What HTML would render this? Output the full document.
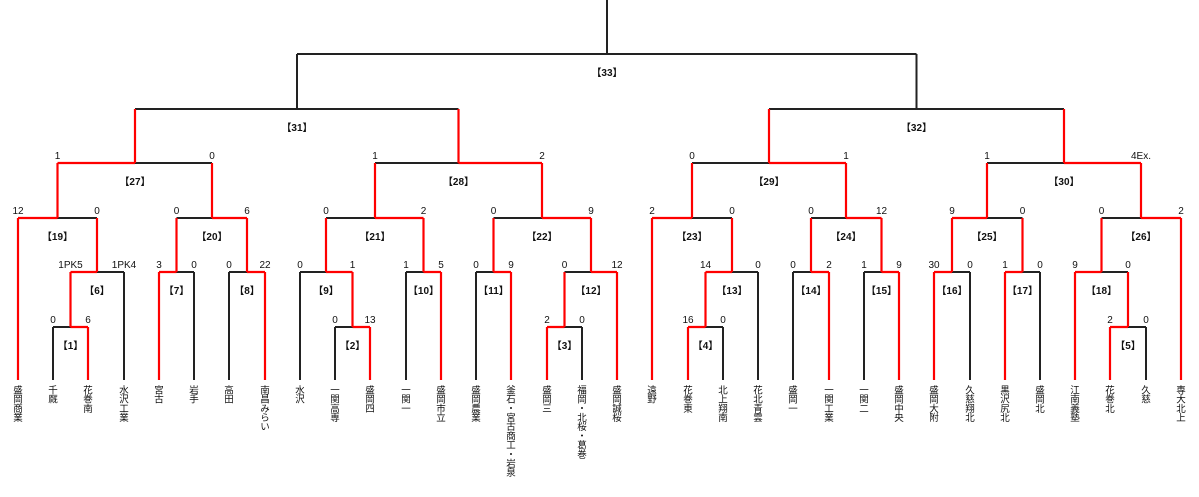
<!DOCTYPE html>
<html><head><meta charset="utf-8"><style>
html,body{margin:0;padding:0;background:#fff;width:1199px;height:497px;overflow:hidden;position:relative;font-family:"Liberation Sans","Noto Sans CJK JP",sans-serif}
svg{position:absolute;left:0;top:0}
.t{position:absolute;top:385px;writing-mode:vertical-rl;text-orientation:upright;font-size:9.5px;line-height:10px;color:#111;font-family:"Noto Sans CJK JP",sans-serif;transform:translateX(-5px);letter-spacing:-0.3px}
</style></head><body>
<svg width="1199" height="497" xmlns="http://www.w3.org/2000/svg">
<g fill="none" stroke="#222" stroke-width="2">
<path d="M607 0V54M297 54H916.5M297 54V109M916.5 54V109M135 109H458.5M769 109H1064"/>
<path d="M53 327H70.5M53 327V380M97 272H124M124 272V380M57.5 218H97M176.5 272H194M194 272V380M229 272H247M229 272V380M176.5 218H212M135 163H212"/>
<path d="M335 327H352.5M335 327V380M300 272H326M300 272V380M406 272H423.5M406 272V380M326 218H375M476 272H493.5M476 272V380M564.5 327H582M582 327V380M564.5 272H591M493.5 218H542M375 163H458.5"/>
<path d="M705.5 327H723M723 327V380M732 272H758M758 272V380M692 218H732M793 272H811M793 272V380M864 272H881.5M864 272V380M811 218H846M692 163H769"/>
<path d="M952 272H970M970 272V380M1022.5 272H1040M1040 272V380M987 218H1022.5M1128 327H1146M1146 327V380M1101.5 272H1128M1101.5 218H1141M987 163H1064"/>
</g>
<g fill="none" stroke="#ff0000" stroke-width="2.2">
<path d="M70.5 327H88M88 327V380M70.5 327V272M70.5 272H97M97 272V218M18 218H57.5M18 218V380M57.5 218V163M159 272H176.5M159 272V380M176.5 272V218M247 272H265M265 272V380M247 272V218M212 218H247M212 218V163M57.5 163H135M135 163V109"/>
<path d="M352.5 327H370M370 327V380M352.5 327V272M326 272H352.5M326 272V218M423.5 272H441M441 272V380M423.5 272V218M375 218H423.5M375 218V163M493.5 272H511M511 272V380M493.5 272V218M547 327H564.5M547 327V380M564.5 327V272M591 272H617M617 272V380M591 272V218M542 218H591M542 218V163M458.5 163H542M458.5 163V109"/>
<path d="M688 327H705.5M688 327V380M705.5 327V272M705.5 272H732M732 272V218M652 218H692M652 218V380M692 218V163M811 272H829M829 272V380M811 272V218M881.5 272H899M899 272V380M881.5 272V218M846 218H881.5M846 218V163M769 163H846M769 163V109"/>
<path d="M934 272H952M934 272V380M952 272V218M1005 272H1022.5M1005 272V380M1022.5 272V218M952 218H987M987 218V163M1110 327H1128M1110 327V380M1128 327V272M1075 272H1101.5M1075 272V380M1101.5 272V218M1141 218H1181M1181 218V380M1141 218V163M1064 163H1141M1064 163V109"/>
</g>
<g font-family="Liberation Sans, sans-serif" font-size="10" fill="#111" text-anchor="middle">
<text x="53" y="323">0</text><text x="88" y="323">6</text>
<text x="70.5" y="268">1PK5</text><text x="124" y="268">1PK4</text>
<text x="18" y="214">12</text><text x="97" y="214">0</text>
<text x="159" y="268">3</text><text x="194" y="268">0</text>
<text x="229" y="268">0</text><text x="265" y="268">22</text>
<text x="176.5" y="214">0</text><text x="247" y="214">6</text>
<text x="57.5" y="159">1</text><text x="212" y="159">0</text>
<text x="335" y="323">0</text><text x="370" y="323">13</text>
<text x="300" y="268">0</text><text x="352.5" y="268">1</text>
<text x="406" y="268">1</text><text x="441" y="268">5</text>
<text x="326" y="214">0</text><text x="423.5" y="214">2</text>
<text x="476" y="268">0</text><text x="511" y="268">9</text>
<text x="547" y="323">2</text><text x="582" y="323">0</text>
<text x="564.5" y="268">0</text><text x="617" y="268">12</text>
<text x="493.5" y="214">0</text><text x="591" y="214">9</text>
<text x="375" y="159">1</text><text x="542" y="159">2</text>
<text x="688" y="323">16</text><text x="723" y="323">0</text>
<text x="705.5" y="268">14</text><text x="758" y="268">0</text>
<text x="652" y="214">2</text><text x="732" y="214">0</text>
<text x="793" y="268">0</text><text x="829" y="268">2</text>
<text x="864" y="268">1</text><text x="899" y="268">9</text>
<text x="811" y="214">0</text><text x="881.5" y="214">12</text>
<text x="692" y="159">0</text><text x="846" y="159">1</text>
<text x="934" y="268">30</text><text x="970" y="268">0</text>
<text x="1005" y="268">1</text><text x="1040" y="268">0</text>
<text x="952" y="214">9</text><text x="1022.5" y="214">0</text>
<text x="1110" y="323">2</text><text x="1146" y="323">0</text>
<text x="1075" y="268">9</text><text x="1128" y="268">0</text>
<text x="1101.5" y="214">0</text><text x="1181" y="214">2</text>
<text x="987" y="159">1</text><text x="1141" y="159">4Ex.</text>
</g>
<g font-family="Liberation Sans, Noto Sans CJK JP, sans-serif" font-size="10" font-weight="bold" fill="#111" text-anchor="middle">
<text x="70.5" y="349">【1】</text><text x="352.5" y="349">【2】</text><text x="564.5" y="349">【3】</text><text x="705.5" y="349">【4】</text><text x="1128" y="349">【5】</text>
<text x="97" y="294">【6】</text><text x="176.5" y="294">【7】</text><text x="247" y="294">【8】</text><text x="326" y="294">【9】</text><text x="423.5" y="294">【10】</text><text x="493.5" y="294">【11】</text><text x="591" y="294">【12】</text><text x="732" y="294">【13】</text><text x="811" y="294">【14】</text><text x="881.5" y="294">【15】</text><text x="952" y="294">【16】</text><text x="1022.5" y="294">【17】</text><text x="1101.5" y="294">【18】</text>
<text x="57.5" y="240">【19】</text><text x="212" y="240">【20】</text><text x="375" y="240">【21】</text><text x="542" y="240">【22】</text><text x="692" y="240">【23】</text><text x="846" y="240">【24】</text><text x="987" y="240">【25】</text><text x="1141" y="240">【26】</text>
<text x="135" y="185">【27】</text><text x="458.5" y="185">【28】</text><text x="769" y="185">【29】</text><text x="1064" y="185">【30】</text>
<text x="297" y="131">【31】</text><text x="916.5" y="131">【32】</text>
<text x="607" y="76">【33】</text>
</g>
</svg>
<div class="t" style="left:18px">盛岡商業</div>
<div class="t" style="left:53px">千厩</div>
<div class="t" style="left:88px">花巻南</div>
<div class="t" style="left:124px">水沢工業</div>
<div class="t" style="left:159px">宮古</div>
<div class="t" style="left:194px">岩手</div>
<div class="t" style="left:229px">高田</div>
<div class="t" style="left:265px">南昌みらい</div>
<div class="t" style="left:300px">水沢</div>
<div class="t" style="left:335px">一関高専</div>
<div class="t" style="left:370px">盛岡四</div>
<div class="t" style="left:406px">一関一</div>
<div class="t" style="left:441px">盛岡市立</div>
<div class="t" style="left:476px">盛岡農業</div>
<div class="t" style="left:511px">釜石・宮古商工・岩泉</div>
<div class="t" style="left:547px">盛岡三</div>
<div class="t" style="left:582px">福岡・北桜・葛巻</div>
<div class="t" style="left:617px">盛岡誠桜</div>
<div class="t" style="left:652px">遠野</div>
<div class="t" style="left:688px">花巻東</div>
<div class="t" style="left:723px">北上翔南</div>
<div class="t" style="left:758px">花北青雲</div>
<div class="t" style="left:793px">盛岡一</div>
<div class="t" style="left:829px">一関工業</div>
<div class="t" style="left:864px">一関二</div>
<div class="t" style="left:899px">盛岡中央</div>
<div class="t" style="left:934px">盛岡大附</div>
<div class="t" style="left:970px">久慈翔北</div>
<div class="t" style="left:1005px">黒沢尻北</div>
<div class="t" style="left:1040px">盛岡北</div>
<div class="t" style="left:1075px">江南義塾</div>
<div class="t" style="left:1110px">花巻北</div>
<div class="t" style="left:1146px">久慈</div>
<div class="t" style="left:1181px">専大北上</div>
</body></html>
